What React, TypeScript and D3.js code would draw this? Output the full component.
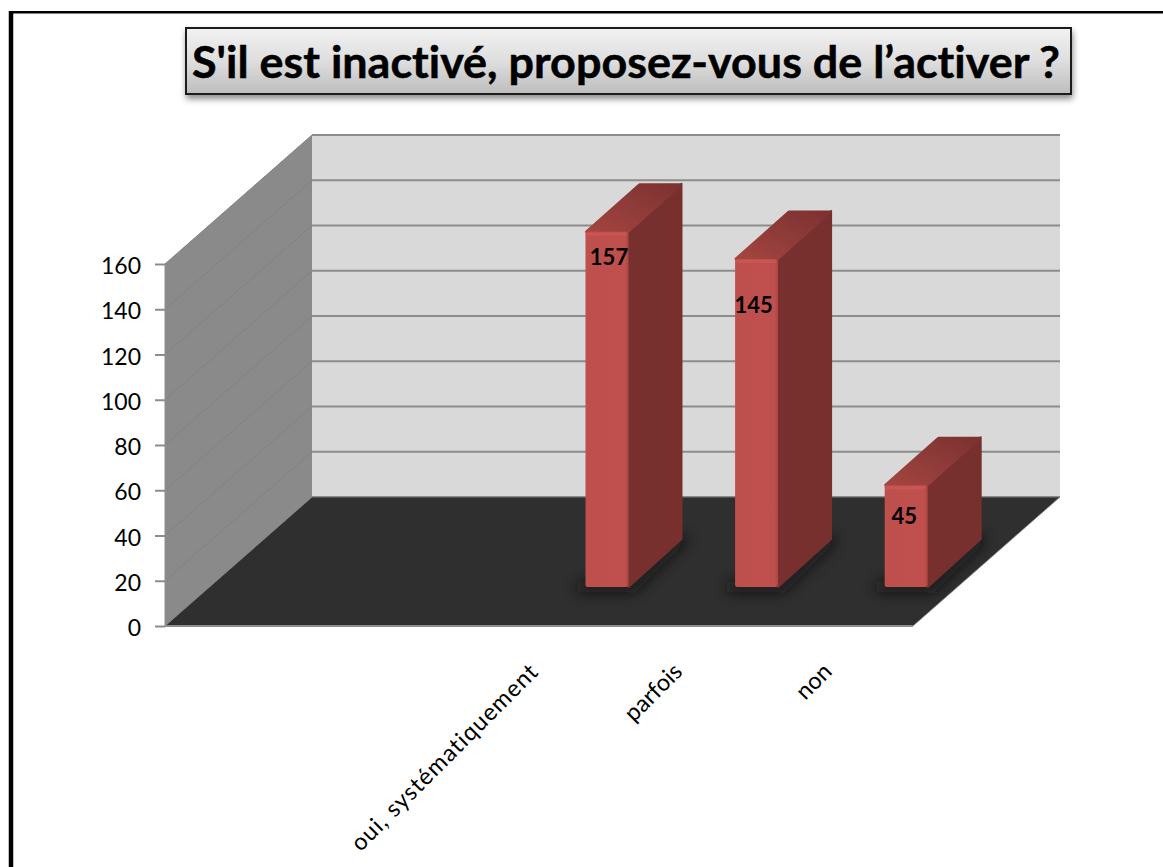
import * as d3 from 'd3'
import { useEffect, useRef } from 'react'

const titleText = "S'il est inactivé, proposez-vous de l’activer ?"
const slots = ['', ' ', 'oui, systématiquement', 'parfois', 'non']
const categories = ['oui, systématiquement', 'parfois', 'non']
const values = [157, 145, 45]
const yTicks = [0, 20, 40, 60, 80, 100, 120, 140, 160]

// hand placed offsets of the labels, as in the picture
const labelNudgeX = [2, -3, -2]
const labelNudgeY = [33, 54, 39]
const catNudgeX = [1, -5, -5]
const catNudgeY = [5, 5, 5]
const catSpacing = [1, 0, 0]

const width = 1163
const height = 867
const font = 'Lato, Carlito, Calibri, sans-serif'

// 3d box of the chart
const frontLeft = 165
const frontRight = 913
const y0 = 626
const y160 = 264
const depthX = 147
const depthY = 129
const barDepthX = 53
const barDepthY = 48
const barLift = 39
const barShift = 68
const barW = 43

const xScale = d3.scaleBand().domain(slots).range([frontLeft, frontRight])
const yScale = d3.scaleLinear().domain([0, 160]).range([y0, y160])
const poly = d3.line().curve(d3.curveLinearClosed)

const App = () => {
  const axisRef = useRef(null)

  useEffect(() => {
    const g = d3.select(axisRef.current)
    g.selectAll('*').remove()
    g.attr('transform', `translate(${frontLeft}, 0)`).call(
      d3.axisLeft(yScale).tickValues(yTicks).tickSize(10).tickSizeOuter(0).tickPadding(14)
    )
    g.selectAll('path').attr('stroke', '#8c8c8c').attr('stroke-width', 2)
    g.selectAll('line').attr('stroke', '#8c8c8c').attr('stroke-width', 2)
    g.selectAll('text')
      .attr('fill', '#000')
      .attr('font-size', 23)
      .attr('font-family', font)
      .attr('dy', '0.42em')
  }, [])

  const bw = xScale.bandwidth()
  const barBase = y0 - barLift

  return (
    <svg
      width={width}
      height={height}
      style={{ position: 'absolute', left: 0, top: 0, background: '#fff', fontVariantLigatures: 'none' }}
    >
      <defs>
        <linearGradient id="titleFill" x1="0" y1="0" x2="0" y2="1">
          <stop offset="0" stopColor="#f2f2f2" />
          <stop offset="0.5" stopColor="#dedede" />
          <stop offset="1" stopColor="#bdbdbd" />
        </linearGradient>
        <linearGradient id="barFront" x1="0" y1="0" x2="1" y2="0">
          <stop offset="0" stopColor="#bd4f4c" />
          <stop offset="0.92" stopColor="#c0504d" />
          <stop offset="1" stopColor="#a84643" />
        </linearGradient>
        <linearGradient id="barTop" x1="0" y1="1" x2="1" y2="0">
          <stop offset="0" stopColor="#a5453f" />
          <stop offset="0.5" stopColor="#8f3b39" />
          <stop offset="1" stopColor="#7c3230" />
        </linearGradient>
        <filter id="blur" x="-40%" y="-40%" width="180%" height="180%">
          <feGaussianBlur stdDeviation="7" />
        </filter>
        <filter id="soft" x="-10%" y="-10%" width="120%" height="120%">
          <feGaussianBlur stdDeviation="0.7" />
        </filter>
        <filter id="titleShadow" x="-5%" y="-20%" width="110%" height="150%">
          <feDropShadow dx="1" dy="4" stdDeviation="3" floodColor="#000" floodOpacity="0.45" />
        </filter>
      </defs>

      {/* page frame */}
      <line x1={11} x2={11} y1={11} y2={height} stroke="#000" strokeWidth={4.5} />
      <line x1={9} x2={width} y1={12.2} y2={12.2} stroke="#000" strokeWidth={2.6} />

      {/* walls and floor */}
      <path
        d={poly([
          [frontLeft + depthX, yScale(160) - depthY],
          [frontRight + depthX, yScale(160) - depthY],
          [frontRight + depthX, yScale(0) - depthY],
          [frontLeft + depthX, yScale(0) - depthY],
        ])}
        fill="#d9d9d9"
      />
      <path
        d={poly([
          [frontLeft, yScale(0)],
          [frontLeft, yScale(160)],
          [frontLeft + depthX, yScale(160) - depthY],
          [frontLeft + depthX, yScale(0) - depthY],
        ])}
        fill="#8a8a8a"
      />
      {yTicks.map((t) => (
        <line
          key={`side${t}`}
          x1={frontLeft}
          y1={yScale(t)}
          x2={frontLeft + depthX}
          y2={yScale(t) - depthY}
          stroke="#828282"
          strokeWidth={1}
        />
      ))}
      {[...yTicks, 180].map((t) => (
        <line
          key={`back${t}`}
          x1={frontLeft + depthX}
          y1={yScale(t) - depthY}
          x2={frontRight + depthX}
          y2={yScale(t) - depthY}
          stroke="#8c8c8c"
          strokeWidth={2}
        />
      ))}
      <path
        d={poly([
          [frontLeft, yScale(0)],
          [frontRight, yScale(0)],
          [frontRight + depthX, yScale(0) - depthY],
          [frontLeft + depthX, yScale(0) - depthY],
        ])}
        fill="#2f2f2f"
        stroke="#8c8c8c"
        strokeWidth={0.8}
      />
      <line x1={frontLeft} x2={frontRight} y1={y0} y2={y0} stroke="#8c8c8c" strokeWidth={2} />
      <g ref={axisRef} />

      {/* bars */}
      {categories.map((c, i) => {
        const x = xScale(c) + bw / 2 + barShift - barW / 2
        const top = yScale(values[i]) - barLift
        return (
          <g key={c}>
            <path
              d={poly([
                [x - 8, barBase - 6],
                [x + barW, barBase - 6],
                [x + barW + barDepthX, barBase - barDepthY - 6],
                [x + barW + barDepthX + 6, barBase - barDepthY + 2],
                [x + barW + 6, barBase + 6],
                [x - 8, barBase + 6],
              ])}
              fill="#0a0a0a"
              opacity={0.7}
              filter="url(#blur)"
            />
            <path
              d={poly([
                [x + barW, top],
                [x + barW + barDepthX, top - barDepthY],
                [x + barW + barDepthX, barBase - barDepthY],
                [x + barW, barBase],
              ])}
              fill="#78302f"
              stroke="#78302f"
              strokeWidth={2}
              strokeLinejoin="round"
            />
            <path
              d={poly([
                [x + 1, top],
                [x + barDepthX + 1, top - barDepthY + 1],
                [x + barW + barDepthX - 1, top - barDepthY + 1],
                [x + barW - 1, top],
              ])}
              fill="url(#barTop)"
              stroke="url(#barTop)"
              strokeWidth={3}
              strokeLinejoin="round"
            />
            <rect x={x} y={top} width={barW} height={barBase - top} rx={2} fill="url(#barFront)" />
            <rect
              x={x + 1}
              y={top + 1}
              width={barW - 3}
              height={3}
              rx={1}
              fill="#c95653"
              filter="url(#soft)"
            />
            <text
              x={x + barW / 2 + labelNudgeX[i]}
              y={top + labelNudgeY[i]}
              textAnchor="middle"
              fontFamily={font}
              fontWeight="bold"
              fontSize={22}
              fill="#000"
            >
              {values[i]}
            </text>
            <text
              transform={`translate(${xScale(c) + bw / 2 + catNudgeX[i]}, ${668 + catNudgeY[i]}) rotate(-45)`}
              textAnchor="end"
              fontFamily={font}
              fontSize={23.5}
              letterSpacing={catSpacing[i]}
              fill="#000"
            >
              {c}
            </text>
          </g>
        )
      })}

      {/* title box */}
      <rect
        x={186}
        y={28}
        width={885}
        height={66}
        fill="url(#titleFill)"
        stroke="#1a1a1a"
        strokeWidth={2}
        filter="url(#titleShadow)"
      />
      <text
        x={192}
        y={78}
        textLength={868}
        lengthAdjust="spacingAndGlyphs"
        fontFamily={font}
        fontWeight="bold"
        fontSize={43}
        stroke="#000"
        strokeWidth={0.5}
        fill="#000"
      >
        {titleText}
      </text>
    </svg>
  )
}

export default App
